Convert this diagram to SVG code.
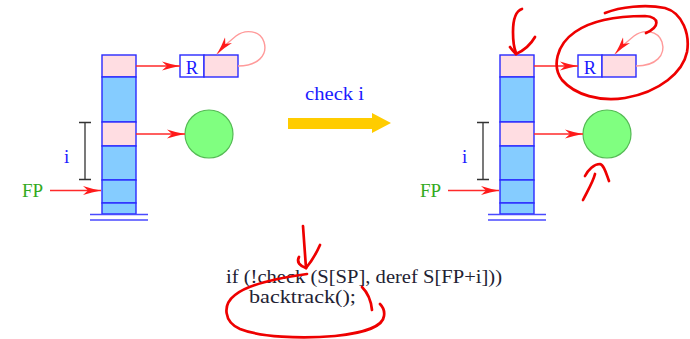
<svg xmlns="http://www.w3.org/2000/svg" width="690" height="339" viewBox="0 0 690 339">
<style>
.cell{stroke:#2a2aff;stroke-width:1.4}
.blue{fill:#85ccff}
.pink{fill:#ffdde2}
.white{fill:#ffffff}
.base{stroke:#4a4aff;stroke-width:1.6;fill:none}
.arr{stroke:#ff2a2a;stroke-width:1.3;fill:none;marker-end:url(#ah)}
.loop{stroke:#ff9a9a;stroke-width:1.4;fill:none;marker-end:url(#ah)}
.br{stroke:#333;stroke-width:1.3;fill:none}
.ball{fill:#80ff80;stroke:#55bb55;stroke-width:1.2}
.lbl{font-family:"Liberation Serif","Times New Roman",serif;fill:#1a1aff}
.fp{font-family:"Liberation Serif","Times New Roman",serif;fill:#33aa22;font-size:19px}
.code{font-family:"Liberation Serif","Times New Roman",serif;fill:#222233;font-size:18px}
.ink{stroke:#ee0000;stroke-width:2.7;fill:none;stroke-linecap:round;stroke-linejoin:round}
</style>
<defs>
<marker id="ah" markerUnits="userSpaceOnUse" viewBox="0 0 18 10" refX="18" refY="5" markerWidth="18" markerHeight="10" orient="auto">
<path d="M0,0.5 Q9,3.5 18,5 Q9,6.5 0,9.5 L5,5 Z" fill="#ff1a1a"/>
</marker>
</defs>

<g id="stack-left">
<rect class="cell pink" x="102" y="55" width="34" height="22"/>
<rect class="cell blue" x="102" y="77" width="34" height="45"/>
<rect class="cell pink" x="102" y="122" width="34" height="24"/>
<rect class="cell blue" x="102" y="146" width="34" height="34"/>
<rect class="cell blue" x="102" y="180" width="34" height="23"/>
<rect class="cell blue" x="102" y="203" width="34" height="11"/>
<path class="base" d="M90,214.5 H148 M90,220 H148"/>
</g>
<g id="R-left">
<rect class="cell white" x="180" y="55" width="24" height="22"/>
<rect class="cell pink" x="204" y="55" width="34" height="22"/>
<text class="lbl" x="192" y="73.5" font-size="18.5" text-anchor="middle">R</text>
</g>
<g id="ball-left"><circle class="ball" cx="209" cy="134" r="24"/></g>
<g id="i-left">
<path class="br" d="M85,122.5 V179.5 M79,122.5 H91 M79,179.5 H91"/>
<text class="lbl" x="64" y="163" font-size="19">i</text>
</g>
<g id="fp-left"><text class="fp" x="22" y="197">FP</text></g>

<g id="stack-right">
<rect class="cell pink" x="500" y="55" width="34" height="22"/>
<rect class="cell blue" x="500" y="77" width="34" height="45"/>
<rect class="cell pink" x="500" y="122" width="34" height="24"/>
<rect class="cell blue" x="500" y="146" width="34" height="34"/>
<rect class="cell blue" x="500" y="180" width="34" height="23"/>
<rect class="cell blue" x="500" y="203" width="34" height="11"/>
<path class="base" d="M488,214.5 H546 M488,220 H546"/>
</g>
<g id="R-right">
<rect class="cell white" x="578" y="55" width="24" height="22"/>
<rect class="cell pink" x="602" y="55" width="34" height="22"/>
<text class="lbl" x="590" y="73.5" font-size="18.5" text-anchor="middle">R</text>
</g>
<g id="ball-right"><circle class="ball" cx="607" cy="134" r="24"/></g>
<g id="i-right">
<path class="br" d="M483,122.5 V179.5 M477,122.5 H489 M477,179.5 H489"/>
<text class="lbl" x="462" y="163" font-size="19">i</text>
</g>
<g id="fp-right"><text class="fp" x="420" y="197">FP</text></g>

<g id="transition">
<path d="M288,118 H372 V113 L391,123 L372,133 V129 H288 Z" fill="#ffcc00"/>
<text class="lbl" x="305" y="100" font-size="19" textLength="59" lengthAdjust="spacingAndGlyphs">check i</text>
</g>

<g id="connectors">
<path class="arr" d="M136,66 H180"/>
<path class="arr" d="M136,134 H185"/>
<path class="arr" d="M50,190.5 H101"/>
<path class="loop" d="M238,66 C258,66 268,55 264,42 C260,30 245,29 236,36 C228,42 222,48 217,54"/>
<path class="arr" d="M534,66 H578"/>
<path class="arr" d="M534,134 H583"/>
<path class="arr" d="M448,190.5 H499"/>
<path class="loop" d="M636,66 C656,66 666,55 662,42 C658,30 643,29 634,36 C626,42 620,48 615,54"/>
</g>

<g id="code">
<text class="code" x="226" y="283" textLength="276" lengthAdjust="spacingAndGlyphs">if (!check (S[SP], deref S[FP+i]))</text>
<text class="code" x="249" y="303" textLength="107" lengthAdjust="spacingAndGlyphs">backtrack();</text>
</g>

<g id="annotations">
<path class="ink" d="M522,9 C516,11 513,20 513,32 C513,42 514,48 516,53"/>
<path class="ink" d="M535,37 C531,44 525,50 516,54"/>
<path class="ink" d="M510,47 C512,50 514,52 516,54"/>
<path class="ink" d="M605,13 C620,7 645,4 665,8 C683,13 690,35 687,52 C683,72 660,92 625,98 C600,102 575,95 562,80 C552,67 556,45 575,32 C592,20 620,16 645,16 C660,17 660,27 646,33"/>
<path class="ink" d="M583,200 C588,190 593,182 595,174"/>
<path class="ink" d="M585,176 C588,170 594,164 600,164 C604,165 606,173 609,181"/>
<path class="ink" d="M303,226 C304,240 305,255 306,268"/>
<path class="ink" d="M320,245 C316,254 311,262 306,268"/>
<path class="ink" d="M299,257 C296,262 300,266 306,268"/>
<path class="ink" d="M307,274 C285,277 250,283 235,295 C222,305 224,322 240,329 C260,337 300,339 335,336 C365,333 383,326 384,316 C385,310 382,306 380,304"/>
<path class="ink" d="M362,287 C367,292 371,300 372,310"/>
</g>
</svg>
